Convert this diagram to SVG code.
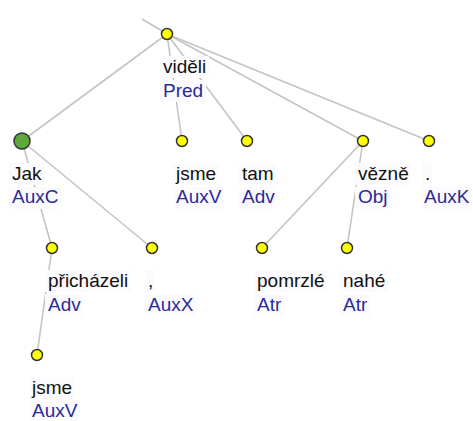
<svg xmlns="http://www.w3.org/2000/svg" width="473" height="421" viewBox="0 0 473 421">
<style>
.e{stroke:#c4c4c4;stroke-width:1.6;fill:none}
.n{fill:#ffff00;stroke:#333;stroke-width:1.5}
.g{fill:#5fa83a;stroke:#333;stroke-width:1.5}
.bg{fill:#fbfbfd}
.w{font-family:"Liberation Sans",Arial,sans-serif;font-size:19px;fill:#111}
.t{font-family:"Liberation Sans",Arial,sans-serif;font-size:19px;fill:#2a2a98}
</style>
<rect width="473" height="421" fill="#ffffff"/>
<g id="connectors">
<line class="e" x1="167" y1="34" x2="142" y2="19"/>
<line class="e" x1="167" y1="34" x2="22" y2="141"/>
<line class="e" x1="167" y1="34" x2="182" y2="141"/>
<line class="e" x1="167" y1="34" x2="247" y2="141"/>
<line class="e" x1="167" y1="34" x2="363" y2="141"/>
<line class="e" x1="167" y1="34" x2="429" y2="141"/>
<line class="e" x1="22" y1="141" x2="52" y2="248"/>
<line class="e" x1="22" y1="141" x2="152" y2="248"/>
<line class="e" x1="52" y1="248" x2="37" y2="355"/>
<line class="e" x1="363" y1="141" x2="262" y2="248"/>
<line class="e" x1="363" y1="141" x2="347" y2="248"/>
</g>
<g id="n-videli">
<rect class="bg" x="160" y="56" width="49" height="22"/>
<rect class="bg" x="160" y="80" width="46" height="22"/>
<circle class="n" cx="167" cy="34" r="5.5"/>
<text class="w" x="163" y="73">viděli</text>
<text class="t" x="163" y="97">Pred</text>
</g>
<g id="n-jak">
<rect class="bg" x="9" y="163" width="36" height="22"/>
<rect class="bg" x="9" y="187" width="53" height="22"/>
<circle class="g" cx="22" cy="141" r="8"/>
<text class="w" x="12" y="180">Jak</text>
<text class="t" x="12" y="203">AuxC</text>
</g>
<g id="n-jsme1">
<rect class="bg" x="173" y="163" width="46" height="22"/>
<rect class="bg" x="173" y="187" width="51" height="22"/>
<circle class="n" cx="182" cy="141" r="5.5"/>
<text class="w" x="176" y="180">jsme</text>
<text class="t" x="176" y="203">AuxV</text>
</g>
<g id="n-tam">
<rect class="bg" x="239" y="163" width="37" height="22"/>
<rect class="bg" x="239" y="187" width="37" height="22"/>
<circle class="n" cx="247" cy="141" r="5.5"/>
<text class="w" x="242" y="180">tam</text>
<text class="t" x="242" y="203">Adv</text>
</g>
<g id="n-vezne">
<rect class="bg" x="355" y="163" width="56" height="22"/>
<rect class="bg" x="355" y="187" width="35" height="22"/>
<circle class="n" cx="363" cy="141" r="5.5"/>
<text class="w" x="358" y="180">vězně</text>
<text class="t" x="358" y="203">Obj</text>
</g>
<g id="n-dot">
<rect class="bg" x="422" y="163" width="10" height="22"/>
<rect class="bg" x="421" y="187" width="51" height="22"/>
<circle class="n" cx="429" cy="141" r="5.5"/>
<text class="w" x="425" y="180">.</text>
<text class="t" x="424" y="203">AuxK</text>
</g>
<g id="n-prichazeli">
<rect class="bg" x="45" y="270" width="86" height="22"/>
<rect class="bg" x="45" y="294" width="37" height="22"/>
<circle class="n" cx="52" cy="248" r="5.5"/>
<text class="w" x="48" y="287">přicházeli</text>
<text class="t" x="48" y="311">Adv</text>
</g>
<g id="n-comma">
<rect class="bg" x="145" y="270" width="10" height="22"/>
<rect class="bg" x="145" y="294" width="50" height="22"/>
<circle class="n" cx="152" cy="248" r="5.5"/>
<text class="w" x="148" y="287">,</text>
<text class="t" x="148" y="311">AuxX</text>
</g>
<g id="n-jsme2">
<rect class="bg" x="29" y="377" width="46" height="22"/>
<rect class="bg" x="29" y="401" width="51" height="20"/>
<circle class="n" cx="37" cy="355" r="5.5"/>
<text class="w" x="32" y="394">jsme</text>
<text class="t" x="32" y="417">AuxV</text>
</g>
<g id="n-pomrzle">
<rect class="bg" x="254" y="270" width="73" height="22"/>
<rect class="bg" x="254" y="294" width="30" height="22"/>
<circle class="n" cx="262" cy="248" r="5.5"/>
<text class="w" x="257" y="287">pomrzlé</text>
<text class="t" x="257" y="311">Atr</text>
</g>
<g id="n-nahe">
<rect class="bg" x="340" y="270" width="48" height="22"/>
<rect class="bg" x="340" y="294" width="30" height="22"/>
<circle class="n" cx="347" cy="248" r="5.5"/>
<text class="w" x="343" y="287">nahé</text>
<text class="t" x="343" y="311">Atr</text>
</g>
</svg>
